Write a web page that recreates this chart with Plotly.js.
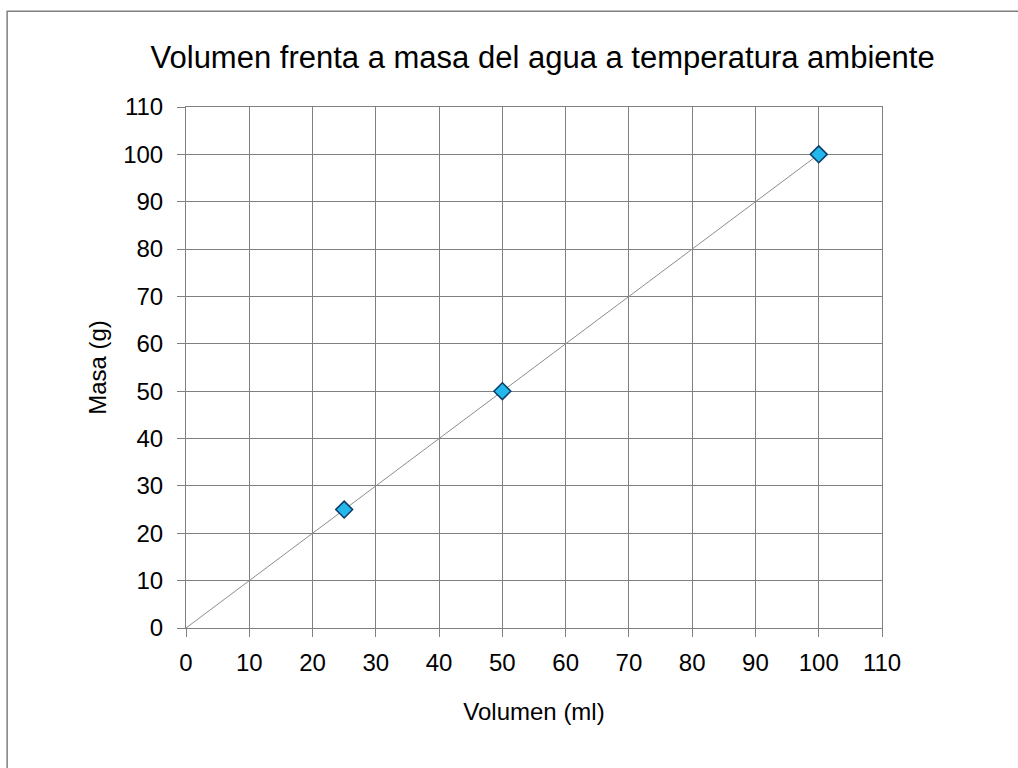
<!DOCTYPE html>
<html>
<head>
<meta charset="utf-8">
<script src="https://cdn.plot.ly/plotly-3.0.1.min.js"></script>
<style>html,body{margin:0;padding:0;background:#fff;overflow:hidden;}#chart{width:1018px;height:768px;}</style>
</head>
<body>
<div id="chart"></div>
<script>
const volumen = [25, 50, 100];
const masa = [25, 50, 100];
const trendX = [0, 100];
const trendY = [0, 100];
const tickVals = [0, 10, 20, 30, 40, 50, 60, 70, 80, 90, 100, 110];

const traces = [
  {x: trendX, y: trendY, mode: 'lines', type: 'scatter',
   line: {color: '#8c8c8c', width: 1}, hoverinfo: 'skip', showlegend: false},
  {x: volumen, y: masa, mode: 'markers', type: 'scatter',
   marker: {symbol: 'diamond', size: 13, color: '#22b8ec', line: {color: '#0d3a66', width: 1.5}},
   showlegend: false}
];

const fnt = {family: 'Liberation Sans, Arial, sans-serif', color: '#000'};
const layout = {
  width: 1018, height: 768,
  margin: {l: 186, r: 136, t: 107, b: 140},
  paper_bgcolor: '#fff', plot_bgcolor: '#fff',
  title: {text: 'Volumen frenta a masa del agua a temperatura ambiente',
          font: Object.assign({size: 31}, fnt), x: 0.533, xanchor: 'center', y: 0.925, yanchor: 'middle'},
  xaxis: {range: [0, 110], tickvals: tickVals, showgrid: true, gridcolor: '#808080', gridwidth: 1,
          zeroline: false, showline: true, linecolor: '#808080', linewidth: 1, mirror: true,
          ticks: 'outside', ticklen: 8, tickcolor: '#808080', tickfont: Object.assign({size: 24}, fnt),
          ticklabelstandoff: 5,
          title: {text: 'Volumen (ml)', font: Object.assign({size: 24}, fnt), standoff: 28}},
  yaxis: {range: [0, 110], tickvals: tickVals, showgrid: true, gridcolor: '#808080', gridwidth: 1,
          zeroline: false, showline: true, linecolor: '#808080', linewidth: 1, mirror: true,
          ticks: 'outside', ticklen: 8, tickcolor: '#808080', tickfont: Object.assign({size: 24}, fnt),
          ticklabelstandoff: 9,
          title: {text: 'Masa (g)', font: Object.assign({size: 24}, fnt), standoff: 9}},
  shapes: [
    {type: 'rect', xref: 'paper', yref: 'paper', x0: -0.257, x1: 1.5, y0: -0.6, y1: 1.184,
     line: {color: '#7f7f7f', width: 1.5}, fillcolor: 'rgba(0,0,0,0)', layer: 'below'}
  ]
};
Plotly.newPlot('chart', traces, layout, {displayModeBar: false, staticPlot: true});
</script>
</body>
</html>
